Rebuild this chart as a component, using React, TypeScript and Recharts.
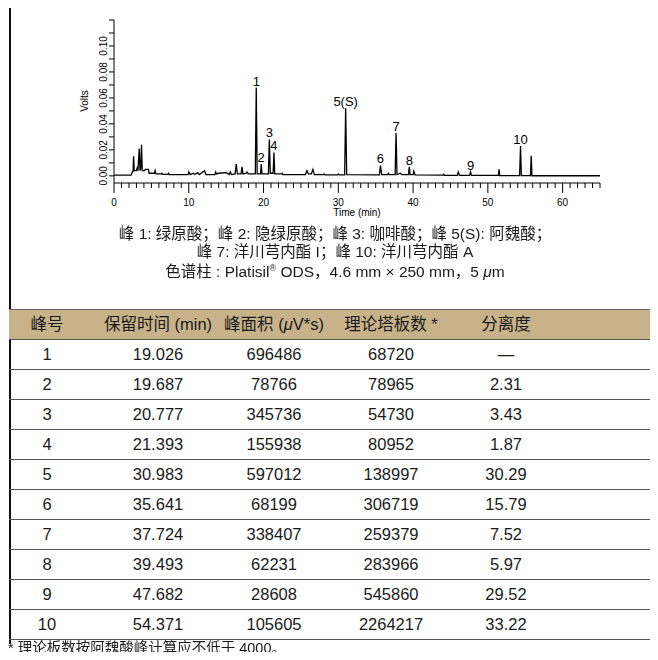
import { LineChart, Line, XAxis, YAxis, LabelList } from "recharts"

// chromatogram trace: [time (min), volts]
const tracePoints: [number, number][] = [
	[0, 0.0005], [2.3, 0.0005], [2.45, 0.003], [2.55, 0.0035], [2.62, 0.015], [2.7, 0.004],
	[3.0, 0.004], [3.1, 0.006], [3.2, 0.004], [3.38, 0.021], [3.48, 0.004], [3.58, 0.006],
	[3.68, 0.024], [3.78, 0.004], [4.1, 0.004], [4.2, 0.005], [4.6, 0.005], [4.7, 0.002],
	[5.4, 0.002], [5.5, 0.004], [5.6, 0.0015], [6.3, 0.0015], [6.4, 0.002], [6.5, 0.0012],
	[7.2, 0.0012], [7.3, 0.002], [7.4, 0.001], [9.9, 0.001], [10.0, 0.003], [10.2, 0.001],
	[10.6, 0.002], [10.8, 0.001], [11.2, 0.0025], [11.4, 0.001], [12.1, 0.004], [12.3, 0.001],
	[13.5, 0.001], [13.6, 0.003], [13.7, 0.0015], [14.0, 0.002], [15.0, 0.0025], [15.4, 0.001],
	[15.55, 0.003], [15.7, 0.001], [16.2, 0.0015], [16.35, 0.009], [16.5, 0.0015], [17.0, 0.0015],
	[17.12, 0.007], [17.25, 0.0015], [17.7, 0.002], [17.8, 0.003], [17.95, 0.0015], [18.9, 0.0015],
	[19.026, 0.068], [19.15, 0.0015], [19.6, 0.0015], [19.687, 0.009], [19.8, 0.0015], [20.65, 0.0015],
	[20.777, 0.028], [20.9, 0.002], [21.28, 0.002], [21.393, 0.018], [21.5, 0.0015], [22.4, 0.0015],
	[22.5, 0.002], [22.6, 0.001], [25.6, 0.001], [25.8, 0.004], [26.0, 0.0015], [26.4, 0.0015],
	[26.6, 0.005], [26.8, 0.001], [28.0, 0.001], [28.1, 0.0015], [28.2, 0.0008], [29.9, 0.0008],
	[30.0, 0.0015], [30.1, 0.0008], [30.85, 0.0008], [30.983, 0.052], [31.12, 0.001], [35.5, 0.0008],
	[35.641, 0.008], [35.8, 0.001], [36.6, 0.001], [36.7, 0.002], [36.8, 0.001], [37.6, 0.001],
	[37.724, 0.033], [37.85, 0.001], [38.3, 0.002], [38.5, 0.001], [39.38, 0.001], [39.493, 0.007],
	[39.6, 0.001], [40.0, 0.001], [40.1, 0.0035], [40.25, 0.0008], [44.0, 0.0005], [44.1, 0.0012],
	[44.2, 0.0004], [45.9, 0.0004], [46.05, 0.003], [46.2, 0.0004], [47.55, 0.0004], [47.682, 0.003],
	[47.8, 0.0003], [51.4, 0.0003], [51.5, 0.005], [51.6, 0.0002], [54.25, 0.0002], [54.371, 0.023],
	[54.48, 0.0002], [55.7, 0.0002], [55.8, 0.0155], [55.9, 0.0001], [65, 0.0001],
]

const peakTimes = [19.026, 19.687, 20.777, 21.393, 30.983, 35.641, 37.724, 39.493, 47.682, 54.371]
const peakNames = ["1", "2", "3", "4", "5(S)", "6", "7", "8", "9", "10"]

const xTicks = Array.from({ length: 66 }, (_, i) => i)
const yTicks = [0, 0.01, 0.02, 0.03, 0.04, 0.05, 0.06, 0.07, 0.08, 0.09, 0.1, 0.11, 0.12]

// table
const headers = ["峰号", "保留时间 (min)", "峰面积", "理论塔板数 *", "分离度"]
const peakNo = ["1", "2", "3", "4", "5", "6", "7", "8", "9", "10"]
const retention = ["19.026", "19.687", "20.777", "21.393", "30.983", "35.641", "37.724", "39.493", "47.682", "54.371"]
const area = ["696486", "78766", "345736", "155938", "597012", "68199", "338407", "62231", "28608", "105605"]
const plates = ["68720", "78965", "54730", "80952", "138997", "306719", "259379", "283966", "545860", "2264217"]
const resolution = ["—", "2.31", "3.43", "1.87", "30.29", "15.79", "7.52", "5.97", "29.52", "33.22"]

const colCenters = [47, 158, 274, 391, 506]

const chartData = tracePoints.map(([t, v]) => {
	const i = peakTimes.indexOf(t)
	return { t, v, peak: i >= 0 ? peakNames[i] : "" }
})

const FONT = "'Liberation Sans', 'Noto Sans CJK SC', sans-serif"
const NARROW = "'Liberation Sans Narrow', 'Liberation Sans', 'Noto Sans CJK SC', sans-serif"

const XTick = (props: any) => {
	const { x, y, payload } = props
	const major = payload.value % 10 === 0
	return (
		<g>
			<line x1={x} x2={x} y1={y} y2={y + (major ? 10 : 5)} stroke="#000" strokeWidth={1} />
			{major && (
				<text x={x} y={y + 23} textAnchor="middle" fontSize={10} fontFamily={FONT} fill="#000">
					{payload.value}
				</text>
			)}
		</g>
	)
}

const YTick = (props: any) => {
	const { x, y, payload, index } = props
	const labeled = index % 2 === 0 && payload.value < 0.11
	return (
		<g>
			<line x1={x - 5} x2={x} y1={y} y2={y} stroke="#000" strokeWidth={1} />
			{labeled && (
				<text
					transform={`translate(${x - 7},${y}) rotate(-90)`}
					textAnchor="middle"
					fontSize={10}
					fontFamily={FONT}
					fill="#000"
				>
					{payload.value.toFixed(2)}
				</text>
			)}
		</g>
	)
}

const PeakLabel = (props: any) => {
	const { x, y, value } = props
	if (!value) return null
	return (
		<text x={x} y={y - 2} textAnchor="middle" fontSize={13} fontFamily={FONT} fill="#000">
			{value}
		</text>
	)
}

const cell = (text: React.ReactNode, cx: number, key: number) => (
	<div
		key={key}
		style={{ position: "absolute", left: cx - 9 - 100, width: 200, textAlign: "center", top: 0, lineHeight: "29px" }}
	>
		{text}
	</div>
)

export default function App() {
	return (
		<div
			style={{
				position: "relative",
				width: 658,
				height: 660,
				margin: -8,
				overflow: "hidden",
				background: "#fff",
				fontFamily: NARROW,
				color: "#1a1a1a",
			}}
		>
			{/* frame */}
			<div style={{ position: "absolute", left: 9, top: 3, width: 649, height: 2, background: "#777" }} />
			<div style={{ position: "absolute", left: 9, top: 3, width: 2, height: 641, background: "#111" }} />

			<div style={{ position: "absolute", left: 0, top: 0 }}>
				<LineChart width={658} height={220} data={chartData} margin={{ top: 20, right: 58, bottom: 1, left: 84 }}>
					<XAxis
						type="number"
						dataKey="t"
						domain={[0, 65]}
						ticks={xTicks}
						interval={0}
						tickSize={0}
						tickMargin={0}
						tick={<XTick />}
						axisLine={{ stroke: "#000", strokeWidth: 1 }}
						height={36}
					/>
					<YAxis
						type="number"
						domain={[-0.0055, 0.12]}
						allowDataOverflow
						ticks={yTicks}
						interval={0}
						tickSize={0}
						tickMargin={0}
						tick={<YTick />}
						axisLine={{ stroke: "#000", strokeWidth: 1 }}
						width={30}
					/>
					<Line
						type="linear"
						dataKey="v"
						stroke="#000"
						strokeWidth={1.3}
						dot={false}
						isAnimationActive={false}
					>
						<LabelList dataKey="peak" content={<PeakLabel />} />
					</Line>
				</LineChart>
			</div>

			<div
				style={{
					position: "absolute",
					left: 85 - 30,
					top: 101 - 7,
					width: 60,
					textAlign: "center",
					fontSize: 10,
					lineHeight: "14px",
					fontFamily: FONT,
					transform: "rotate(-90deg)",
					color: "#000",
				}}
			>
				Volts
			</div>
			<div
				style={{
					position: "absolute",
					left: 357 - 50,
					top: 213 - 7,
					width: 100,
					textAlign: "center",
					fontSize: 10,
					lineHeight: "14px",
					fontFamily: FONT,
					color: "#000",
				}}
			>
				Time (min)
			</div>

			{/* caption */}
			<div
				style={{
					position: "absolute",
					left: 10,
					top: 225,
					width: 650,
					textAlign: "center",
					fontSize: 15.5,
					lineHeight: "17.5px",
					fontFamily: FONT,
					willChange: "transform",
				}}
			>
				<div>峰 1: 绿原酸；峰 2: 隐绿原酸；峰 3: 咖啡酸；峰 5(S): 阿魏酸；</div>
				<div>峰 7: 洋川芎内酯 I；峰 10: 洋川芎内酯 A</div>
				<div>
					色谱柱 : Platisil<sup style={{ fontSize: 9 }}>®</sup> ODS，4.6 mm × 250 mm，5 <i>μ</i>m
				</div>
			</div>

			{/* table */}
			<div style={{ position: "absolute", left: 9, top: 309, width: 649, fontSize: 16.5 }}>
				<div
					style={{
						position: "relative",
						height: 30,
						background: "#c8b28a",
						borderTop: "1px solid #666",
						boxSizing: "border-box",
					}}
				>
					{headers.map((h, j) =>
						cell(
							j === 2 ? (
								<>
									{h} (<i>μ</i>V*s)
								</>
							) : (
								h
							),
							colCenters[j],
							j
						)
					)}
				</div>
				{peakNo.map((p, i) => (
					<div
						key={p}
						style={{
							position: "relative",
							height: 30,
							borderTop: "1.5px solid #555",
							boxSizing: "border-box",
						}}
					>
						{[p, retention[i], area[i], plates[i], resolution[i]].map((v, j) => cell(v, colCenters[j], j))}
					</div>
				))}
				<div style={{ height: 0, borderTop: "1.5px solid #555" }} />
			</div>

			<div
				style={{
					position: "absolute",
					left: 8,
					top: 640,
					fontSize: 14.5,
					lineHeight: "16px",
					fontFamily: FONT,
					willChange: "transform",
				}}
			>
				* 理论板数按阿魏酸峰计算应不低于 4000。
			</div>
		</div>
	)
}
